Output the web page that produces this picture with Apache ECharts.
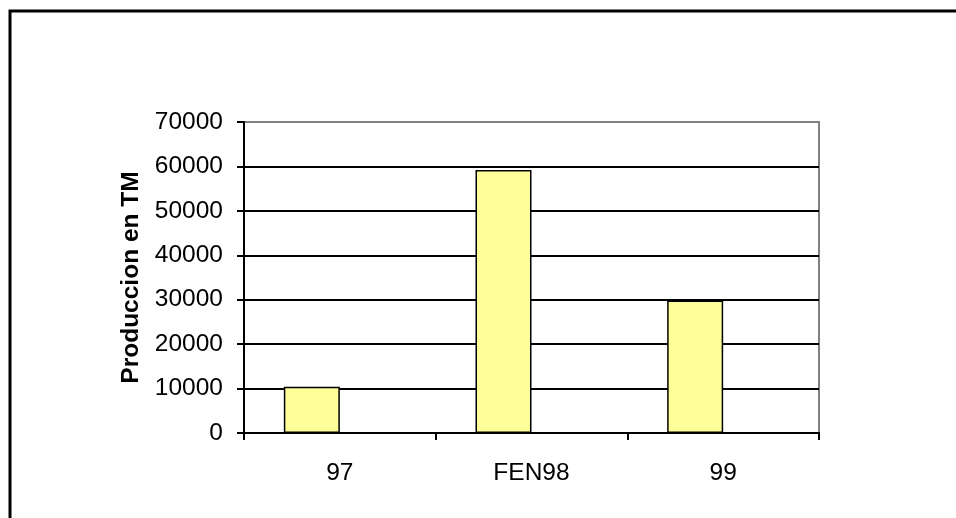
<!DOCTYPE html>
<html>
<head>
<meta charset="utf-8">
<script src="https://cdn.jsdelivr.net/npm/echarts@6/dist/echarts.min.js"></script>
<style>
  html, body { margin: 0; padding: 0; background: #fff; }
  #chart { width: 956px; height: 518px; }
</style>
</head>
<body>
<div id="chart"></div>
<script>
// Annual production (metric tonnes)
const categories = ['97', 'FEN98', '99'];
const production = [10400, 59200, 29800];
const axisTitle = 'Produccion en TM';
const yMax = 70000;
const yStep = 10000;

const FONT = '"Liberation Sans", Arial, sans-serif';

// Horizontal grid lines: black, except the top one which is part of the grey frame
const gridColors = [];
for (let v = 0; v <= yMax; v += yStep) gridColors.push(v === yMax ? '#808080' : '#000000');

const chart = echarts.init(document.getElementById('chart'), null, { renderer: 'canvas' });
chart.setOption({
  animation: false,
  backgroundColor: '#ffffff',
  textStyle: { fontFamily: FONT },
  grid: {
    left: 244, top: 122, width: 575, height: 311,
    show: true, borderColor: '#808080', borderWidth: 2, backgroundColor: 'transparent'
  },
  graphic: [{
    type: 'rect',
    shape: { x: 10, y: 11, width: 1200, height: 800 },
    style: { fill: 'none', stroke: '#000', lineWidth: 3 },
    silent: true, z: 100
  }],
  xAxis: {
    type: 'category',
    data: categories,
    boundaryGap: true,
    axisLine: { lineStyle: { color: '#000', width: 2 } },
    axisTick: { show: true, length: 7, lineStyle: { color: '#000', width: 2 } },
    axisLabel: { color: '#000', fontSize: 24.5, fontFamily: FONT, margin: 28 },
    splitLine: { show: false }
  },
  yAxis: {
    type: 'value',
    min: 0, max: yMax, interval: yStep,
    name: axisTitle,
    nameLocation: 'middle',
    nameGap: 100,
    nameTextStyle: { color: '#000', fontSize: 24.5, fontWeight: 'bold', fontFamily: FONT },
    axisLine: { show: true, lineStyle: { color: '#000', width: 2 } },
    axisTick: { show: true, length: 7, lineStyle: { color: '#000', width: 2 } },
    axisLabel: {
      color: '#000', fontSize: 24.5, fontFamily: FONT, margin: 21,
      formatter: (v) => String(v)
    },
    splitLine: { show: true, lineStyle: { color: gridColors, width: 2 } }
  },
  series: [
    {
      type: 'bar',
      data: production,
      barWidth: 56,
      barGap: '0%',
      itemStyle: { color: '#FFFF99', borderColor: '#000', borderWidth: 1.5 }
    },
    {
      // empty companion slot in each cluster
      type: 'bar',
      data: categories.map(() => null),
      barWidth: 56,
      barGap: '0%'
    }
  ]
});
</script>
</body>
</html>
